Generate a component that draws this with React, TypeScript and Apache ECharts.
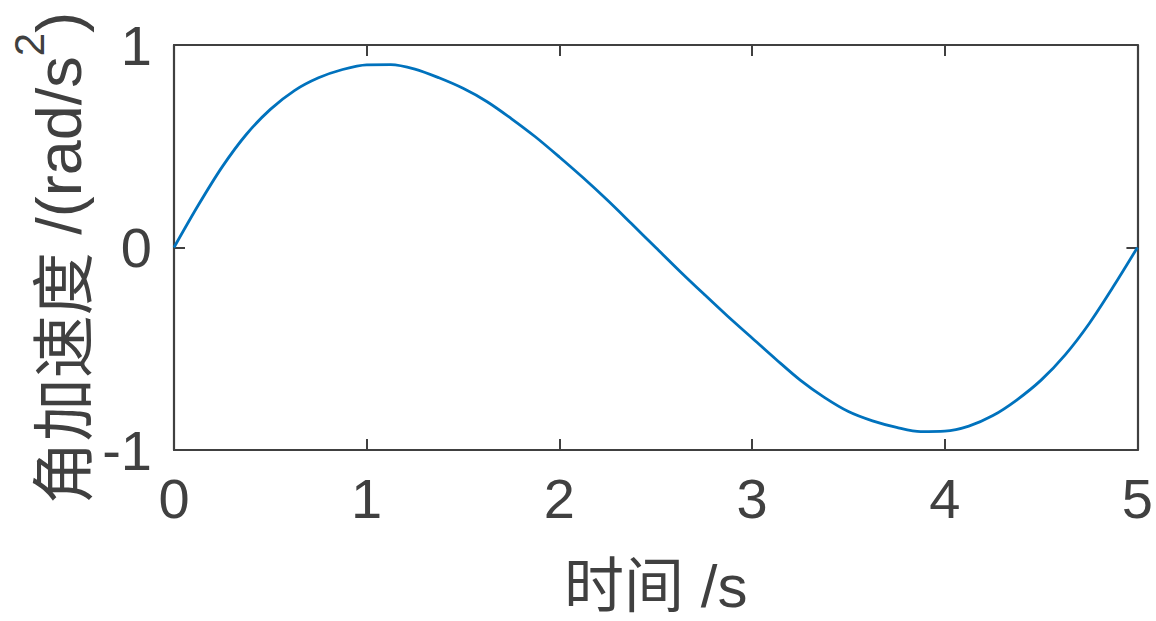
import React, { useEffect, useRef } from "react";
import * as echarts from "echarts";

// time (s)
const timeS = [0, 0.125, 0.25, 0.375, 0.5, 0.625, 0.75, 0.875, 1.0, 1.125, 1.25, 1.375, 1.5, 1.625, 1.75, 1.875, 2.0, 2.125, 2.25, 2.375, 2.5, 2.625, 2.75, 2.875, 3.0, 3.125, 3.25, 3.375, 3.5, 3.625, 3.75, 3.875, 4.0, 4.125, 4.25, 4.375, 4.5, 4.625, 4.75, 4.875, 5];
// angular acceleration (rad/s^2)
const angAcc = [0, 0.207, 0.398, 0.558, 0.682, 0.775, 0.838, 0.879, 0.902, 0.903, 0.881, 0.838, 0.786, 0.72, 0.637, 0.547, 0.447, 0.343, 0.233, 0.117, 0.0, -0.117, -0.23, -0.341, -0.447, -0.553, -0.655, -0.74, -0.81, -0.856, -0.888, -0.909, -0.907, -0.882, -0.83, -0.752, -0.655, -0.53, -0.375, -0.193, 0];

const xRange = [0, 5];
const yRange = [-1, 1];
const xLabel = "时间 /s";
const yLabelCn = "角加速度";
const yLabelUnit = " /(rad/s";
const yLabelSup = "2";
const yLabelEnd = ")";

const AXIS_COLOR = "#404040";
const LINE_COLOR = "#0072BD";
const LATIN = '"Liberation Sans", Arial, sans-serif';
const CJK = '"Noto Sans CJK SC", sans-serif';

export default function App() {
  const ref = useRef<HTMLDivElement>(null);
  useEffect(() => {
    if (!ref.current) return;
    const chart = echarts.init(ref.current, undefined, { renderer: "svg" });
    const tick = { show: true, inside: true, length: 11, lineStyle: { color: AXIS_COLOR, width: 2 } };
    const line = { show: true, onZero: false, lineStyle: { color: AXIS_COLOR, width: 2.2 } };
    chart.setOption({
      animation: false,
      backgroundColor: "#ffffff",
      grid: { left: 174, right: 14, top: 45, bottom: 171, containLabel: false },
      xAxis: [
        {
          type: "value",
          min: xRange[0],
          max: xRange[1],
          interval: 1,
          position: "bottom",
          axisLine: line,
          axisTick: tick,
          splitLine: { show: false },
          axisLabel: { color: AXIS_COLOR, fontSize: 56, fontFamily: LATIN, margin: 20 },
          name: xLabel,
          nameLocation: "middle",
          nameGap: 106,
          nameTextStyle: { color: AXIS_COLOR, fontSize: 60, fontFamily: `"Liberation Sans", ${CJK}` },
        },
        {
          type: "value",
          min: xRange[0],
          max: xRange[1],
          interval: 1,
          position: "top",
          axisLine: line,
          axisTick: tick,
          splitLine: { show: false },
          axisLabel: { show: false },
        },
      ],
      yAxis: [
        {
          type: "value",
          min: yRange[0],
          max: yRange[1],
          interval: 1,
          position: "left",
          axisLine: line,
          axisTick: tick,
          splitLine: { show: false },
          axisLabel: { color: AXIS_COLOR, fontSize: 56, fontFamily: LATIN, margin: 22 },
        },
        {
          type: "value",
          min: yRange[0],
          max: yRange[1],
          interval: 1,
          position: "right",
          axisLine: line,
          axisTick: tick,
          splitLine: { show: false },
          axisLabel: { show: false },
        },
      ],
      graphic: [
        {
          type: "text",
          x: 56,
          y: 258,
          rotation: Math.PI / 2,
          style: {
            text: `{cn|${yLabelCn}}{en|${yLabelUnit}}{sup|${yLabelSup}}{en|${yLabelEnd}}`,
            align: "center",
            verticalAlign: "middle",
            fill: AXIS_COLOR,
            rich: {
              cn: { fontSize: 63, fontFamily: CJK, fill: AXIS_COLOR, lineHeight: 68, verticalAlign: "bottom" },
              en: { fontSize: 63, fontFamily: LATIN, fill: AXIS_COLOR, lineHeight: 68, verticalAlign: "bottom" },
              sup: { fontSize: 42, fontFamily: LATIN, fill: AXIS_COLOR, lineHeight: 44, verticalAlign: "bottom", padding: [0, 0, 40, 0] },
            },
          },
        },
      ],
      series: [
        {
          type: "line",
          xAxisIndex: 0,
          yAxisIndex: 0,
          data: timeS.map((t, i) => [t, angAcc[i]]),
          smooth: 0.3,
          showSymbol: false,
          clip: false,
          lineStyle: { color: LINE_COLOR, width: 2.8 },
        },
      ],
    });
    return () => chart.dispose();
  }, []);
  return (
    <div
      ref={ref}
      style={{ position: "fixed", left: 0, top: 0, width: 1156, height: 621, background: "#fff" }}
    />
  );
}
